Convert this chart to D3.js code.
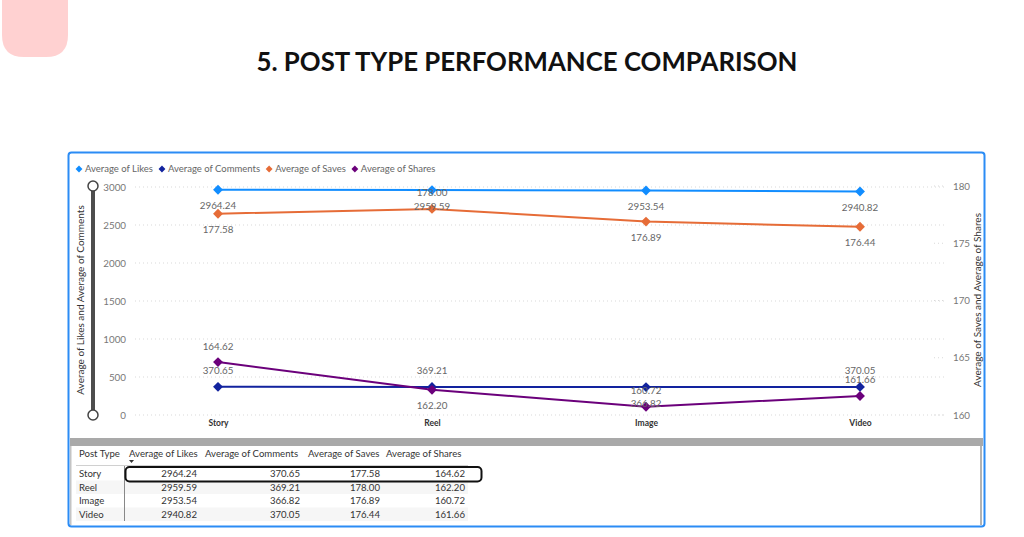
<!DOCTYPE html>
<html>
<head>
<meta charset="utf-8">
<script src="https://cdn.jsdelivr.net/npm/d3@7"></script>
<style>
  body { margin: 0; background: #fff; }
  text { font-family: "Segoe UI", Lato, "Open Sans", sans-serif; }
</style>
</head>
<body>
<div id="chart"></div>
<script>
// chart data
var postTypes = ["Story", "Reel", "Image", "Video"];
var avgLikes = [2964.24, 2959.59, 2953.54, 2940.82];
var avgComments = [370.65, 369.21, 366.82, 370.05];
var avgSaves = [177.58, 178.00, 176.89, 176.44];
var avgShares = [164.62, 162.20, 160.72, 161.66];
var leftTicks = [0, 500, 1000, 1500, 2000, 2500, 3000];
var rightTicks = [160, 165, 170, 175, 180];
var tableHeaders = ["Post Type", "Average of Likes", "Average of Comments", "Average of Saves", "Average of Shares"];

// where each data label sits: 1 above the point, -1 below
var likesLabelPos = [-1, -1, -1, -1];
var commentsLabelPos = [1, 1, -1, 1];
var savesLabelPos = [-1, 1, -1, -1];
var sharesLabelPos = [1, -1, 1, 1];

var series = [
  { name: "Average of Likes", values: avgLikes, axis: "left", color: "#118DFF", labelPos: likesLabelPos },
  { name: "Average of Comments", values: avgComments, axis: "left", color: "#12239E", labelPos: commentsLabelPos },
  { name: "Average of Saves", values: avgSaves, axis: "right", color: "#E66C37", labelPos: savesLabelPos },
  { name: "Average of Shares", values: avgShares, axis: "right", color: "#6B007B", labelPos: sharesLabelPos }
];

var svg = d3.select("#chart")
  .append("svg")
  .attr("width", 1024)
  .attr("height", 537);

// pink tab in the corner
svg.append("path")
  .attr("d", "M2,-5 L68,-5 L68,35 Q68,57 46,57 L24,57 Q2,57 2,35 Z")
  .attr("fill", "#ffd1d1");

// page title
svg.append("text")
  .attr("x", 527)
  .attr("y", 71)
  .attr("text-anchor", "middle")
  .attr("textLength", 541)
  .attr("lengthAdjust", "spacingAndGlyphs")
  .style("font-family", "'Century Gothic', Lato, sans-serif")
  .style("font-weight", 700)
  .style("font-size", "26px")
  .style("fill", "#111")
  .text("5. POST TYPE PERFORMANCE COMPARISON");

// card frame
svg.append("rect")
  .attr("x", 68.5).attr("y", 152.5)
  .attr("width", 916).attr("height", 374)
  .attr("rx", 3)
  .attr("fill", "#fff")
  .attr("stroke", "#2b8cf5")
  .attr("stroke-width", 2);

svg.append("rect")
  .attr("x", 70).attr("y", 438)
  .attr("width", 913).attr("height", 8)
  .attr("fill", "#a9a9a9");
svg.append("rect")
  .attr("x", 980).attr("y", 446)
  .attr("width", 2).attr("height", 79)
  .attr("fill", "#b3b3b3");
svg.append("rect")
  .attr("x", 70).attr("y", 446)
  .attr("width", 1.5).attr("height", 79)
  .attr("fill", "#c4c4c4");

// scales
var x = d3.scalePoint().domain(postTypes).range([218, 860]);
var yLeft = d3.scaleLinear().domain([0, 3000]).range([415, 187]);
var yRight = d3.scaleLinear().domain([160, 180]).range([415, 186]);

var chartGroup = svg.append("g");

// gridlines
chartGroup.selectAll(".grid")
  .data(leftTicks)
  .enter()
  .append("line")
  .attr("x1", 135).attr("x2", 945)
  .attr("y1", d => yLeft(d)).attr("y2", d => yLeft(d))
  .attr("stroke", "#d9d9d9")
  .attr("stroke-dasharray", "1,3");

chartGroup.selectAll(".rgrid")
  .data(rightTicks)
  .enter()
  .append("line")
  .attr("x1", 934).attr("x2", 946)
  .attr("y1", d => yRight(d)).attr("y2", d => yRight(d))
  .attr("stroke", "#d9d9d9")
  .attr("stroke-dasharray", "1,3");

// axes
var leftAxis = d3.axisLeft(yLeft).tickValues(leftTicks).tickFormat(d3.format("d")).tickSize(0).tickPadding(0);
var rightAxis = d3.axisRight(yRight).tickValues(rightTicks).tickFormat(d3.format("d")).tickSize(0).tickPadding(0);
var bottomAxis = d3.axisBottom(x).tickSize(0).tickPadding(0);

var gl = chartGroup.append("g").attr("transform", "translate(126,0)").call(leftAxis);
var gr = chartGroup.append("g").attr("transform", "translate(953,0)").call(rightAxis);
var gb = chartGroup.append("g").attr("transform", "translate(0,420)").call(bottomAxis);
[gl, gr, gb].forEach(function(g) {
  g.select(".domain").remove();
  g.selectAll("text")
    .style("font-family", "'Segoe UI', Lato, sans-serif")
    .style("font-size", "9.8px")
    .style("fill", "#777");
});
gb.selectAll("text")
  .style("font-size", "8.5px")
  .style("font-weight", 700)
  .style("fill", "#333");

// axis titles
chartGroup.append("text")
  .attr("transform", "translate(84,300) rotate(-90)")
  .attr("text-anchor", "middle")
  .style("font-size", "10px")
  .style("fill", "#333")
  .text("Average of Likes and Average of Comments");

chartGroup.append("text")
  .attr("transform", "translate(981,300) rotate(-90)")
  .attr("text-anchor", "middle")
  .style("font-size", "10px")
  .style("fill", "#333")
  .text("Average of Saves and Average of Shares");

// zoom slider on the left
chartGroup.append("line")
  .attr("x1", 93).attr("x2", 93)
  .attr("y1", 186).attr("y2", 415)
  .attr("stroke", "#4d4d4d")
  .attr("stroke-width", 4);
chartGroup.selectAll(".handle")
  .data([186, 415])
  .enter()
  .append("circle")
  .attr("cx", 93).attr("cy", d => d)
  .attr("r", 5)
  .attr("fill", "#fff")
  .attr("stroke", "#444")
  .attr("stroke-width", 1.5);

// lines and markers
var diamond = d3.symbol().type(d3.symbolDiamond2).size(62);

series.forEach(function(s) {
  var yScale = s.axis === "left" ? yLeft : yRight;
  var pts = postTypes.map((p, i) => ({ cat: p, v: s.values[i], pos: s.labelPos[i] }));

  var line = d3.line()
    .x(d => x(d.cat))
    .y(d => yScale(d.v));

  chartGroup.append("path")
    .datum(pts)
    .attr("d", line)
    .attr("fill", "none")
    .attr("stroke", s.color)
    .attr("stroke-width", 2);

  chartGroup.selectAll(null)
    .data(pts)
    .enter()
    .append("path")
    .attr("d", diamond)
    .attr("transform", d => `translate(${x(d.cat)},${yScale(d.v)})`)
    .attr("fill", s.color);

  s.pts = pts;
  s.yScale = yScale;
});

// data labels on top
series.forEach(function(s) {
  chartGroup.selectAll(null)
    .data(s.pts)
    .enter()
    .append("text")
    .attr("x", d => x(d.cat))
    .attr("y", d => s.yScale(d.v) - d.pos * 16)
    .attr("dy", "0.35em")
    .attr("text-anchor", "middle")
    .style("font-size", "9.8px")
    .style("fill", "#666")
    .text(d => d.v.toFixed(2));
});

// legend
var legendX = 76;
series.forEach(function(s) {
  svg.append("path")
    .attr("d", d3.symbol().type(d3.symbolDiamond2).size(30))
    .attr("transform", `translate(${legendX + 3},169)`)
    .attr("fill", s.color);
  var t = svg.append("text")
    .attr("x", legendX + 9)
    .attr("y", 169)
    .attr("dy", "0.35em")
    .style("font-size", "9.5px")
    .style("fill", "#666")
    .text(s.name);
  legendX += 9 + t.node().getComputedTextLength() + 6;
});

// table
var tableGroup = svg.append("g");
var colStart = [79, 129, 205, 308, 386];
var colRight = [null, 197, 300, 380, 465];
var rowScale = d3.scaleBand().domain(postTypes).range([467, 521]);

tableGroup.selectAll(".hdr")
  .data(tableHeaders)
  .enter()
  .append("text")
  .attr("x", (d, i) => colStart[i])
  .attr("y", 454)
  .attr("dy", "0.35em")
  .style("font-size", "9.6px")
  .style("fill", "#333")
  .text(d => d);

// sort arrow
tableGroup.append("path")
  .attr("d", "M129,460 L134,460 L131.5,463 Z")
  .attr("fill", "#333");

tableGroup.append("line")
  .attr("x1", 76).attr("x2", 468)
  .attr("y1", 465.5).attr("y2", 465.5)
  .attr("stroke", "#d0d0d0");

tableGroup.selectAll(".rowbg")
  .data(postTypes)
  .enter()
  .append("rect")
  .attr("x", 76).attr("width", 392)
  .attr("y", d => rowScale(d))
  .attr("height", rowScale.bandwidth())
  .attr("fill", (d, i) => i % 2 ? "#f6f6f6" : "#fff");

tableGroup.append("line")
  .attr("x1", 124.5).attr("x2", 124.5)
  .attr("y1", 466).attr("y2", 521)
  .attr("stroke", "#888");

var columns = [avgLikes, avgComments, avgSaves, avgShares];
postTypes.forEach(function(p, r) {
  var cy = rowScale(p) + rowScale.bandwidth() / 2;
  tableGroup.append("text")
    .attr("x", colStart[0])
    .attr("y", cy)
    .attr("dy", "0.35em")
    .style("font-size", "9.6px")
    .style("fill", "#333")
    .text(p);
  columns.forEach(function(col, c) {
    tableGroup.append("text")
      .attr("x", colRight[c + 1])
      .attr("y", cy)
      .attr("dy", "0.35em")
      .attr("text-anchor", "end")
      .style("font-size", "9.6px")
      .style("fill", "#333")
      .text(col[r].toFixed(2));
  });
});

// selected row outline
tableGroup.append("rect")
  .attr("x", 125.5).attr("y", rowScale("Story"))
  .attr("width", 356).attr("height", rowScale.bandwidth() + 1)
  .attr("rx", 4)
  .attr("fill", "none")
  .attr("stroke", "#111")
  .attr("stroke-width", 2);
</script>
</body>
</html>
